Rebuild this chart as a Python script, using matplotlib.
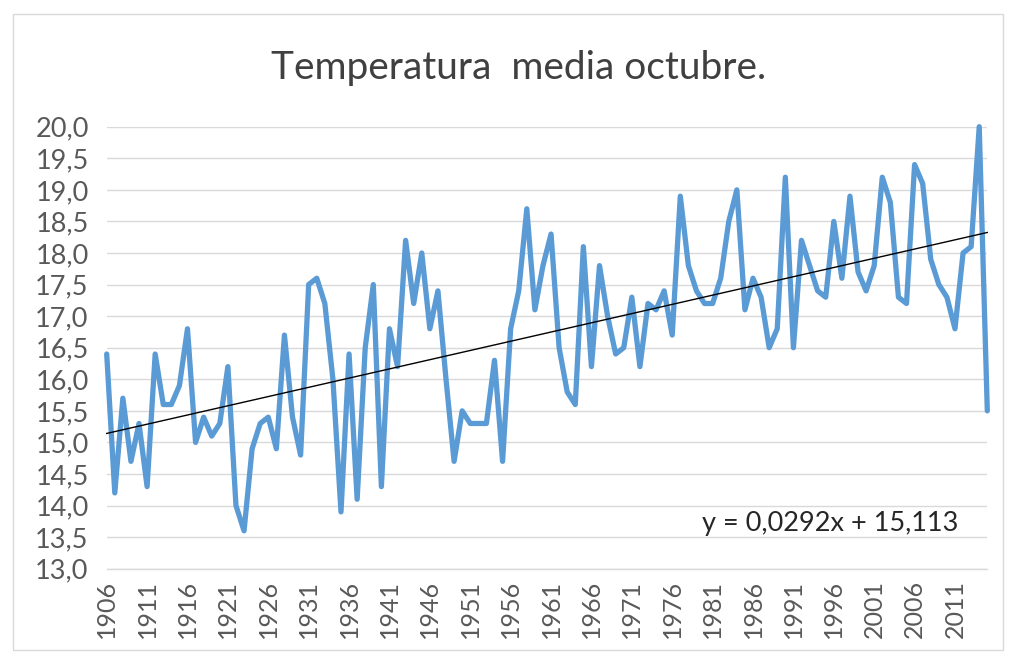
import matplotlib
matplotlib.use("Agg")
import matplotlib.pyplot as plt
from matplotlib.patches import Rectangle
import numpy as np

years = list(range(1906, 2016))
temps = [16.4, 14.2, 15.7, 14.7, 15.3, 14.3, 16.4, 15.6, 15.6, 15.9,
         16.8, 15.0, 15.4, 15.1, 15.3, 16.2, 14.0, 13.6, 14.9, 15.3,
         15.4, 14.9, 16.7, 15.4, 14.8, 17.5, 17.6, 17.2, 16.0, 13.9,
         16.4, 14.1, 16.5, 17.5, 14.3, 16.8, 16.2, 18.2, 17.2, 18.0,
         16.8, 17.4, 16.0, 14.7, 15.5, 15.3, 15.3, 15.3, 16.3, 14.7,
         16.8, 17.4, 18.7, 17.1, 17.8, 18.3, 16.5, 15.8, 15.6, 18.1,
         16.2, 17.8, 17.0, 16.4, 16.5, 17.3, 16.2, 17.2, 17.1, 17.4,
         16.7, 18.9, 17.8, 17.4, 17.2, 17.2, 17.6, 18.5, 19.0, 17.1,
         17.6, 17.3, 16.5, 16.8, 19.2, 16.5, 18.2, 17.8, 17.4, 17.3,
         18.5, 17.6, 18.9, 17.7, 17.4, 17.8, 19.2, 18.8, 17.3, 17.2,
         19.4, 19.1, 17.9, 17.5, 17.3, 16.8, 18.0, 18.1, 20.0, 15.5]
trend_slope = 0.0292
trend_intercept = 15.113
title = "Temperatura  media octubre."
equation = "y = 0,0292x + 15,113"
y_ticks = [13.0 + 0.5 * k for k in range(15)]
x_label_years = list(range(1906, 2012, 5))

plt.rcParams['font.family'] = ['Lato', 'DejaVu Sans']

W, H = 1011, 654
fig = plt.figure(figsize=(W / 100, H / 100), dpi=100)
fig.patch.set_facecolor('white')

# chart-area border
fig.add_artist(Rectangle((13 / W, 1 - 650 / H), (1003 - 13) / W, (650 - 14) / H,
                         transform=fig.transFigure, fill=False,
                         edgecolor='#D9D9D9', linewidth=1.0))

left, right, top, bottom = 106.7, 987.3, 126.7, 568.7
ax = fig.add_axes([left / W, 1 - bottom / H, (right - left) / W, (bottom - top) / H])

idx = np.arange(len(years))
ax.plot(idx, temps, color='#5B9BD5', linewidth=3.8, solid_joinstyle='round',
        solid_capstyle='round', zorder=3, clip_on=False)

xs = np.arange(1, len(years) + 1)
trend = trend_slope * xs + trend_intercept
ax.plot(idx, trend, color='black', linewidth=1.0, zorder=4, clip_on=False)

ax.set_xlim(0, len(years) - 1)
ax.set_ylim(13.0, 20.0)
ax.set_yticks(y_ticks)
ax.set_yticklabels([f"{v:.1f}".replace('.', ',') for v in y_ticks])
ax.set_xticks([years.index(y) for y in x_label_years])
ax.set_xticklabels([str(y) for y in x_label_years], rotation=90)

ax.grid(axis='y', color='#D9D9D9', linewidth=1.0)
ax.set_axisbelow(True)
for s in ['top', 'right', 'left']:
    ax.spines[s].set_visible(False)
ax.spines['bottom'].set_color('#D9D9D9')
ax.spines['bottom'].set_linewidth(1.0)
ax.tick_params(axis='both', length=0, colors='#595959')
ax.tick_params(axis='y', pad=13, labelsize=19.5)
ax.tick_params(axis='x', pad=8, labelsize=18)

fig.text(519 / W, 1 - 68 / H, title, ha='center', va='center', fontsize=28,
         color='#404040')
fig.text(830 / W, 1 - 523 / H, equation, ha='center', va='center', fontsize=19.5,
         color='#262626')

fig.savefig('out.png', dpi=100, facecolor='white')
